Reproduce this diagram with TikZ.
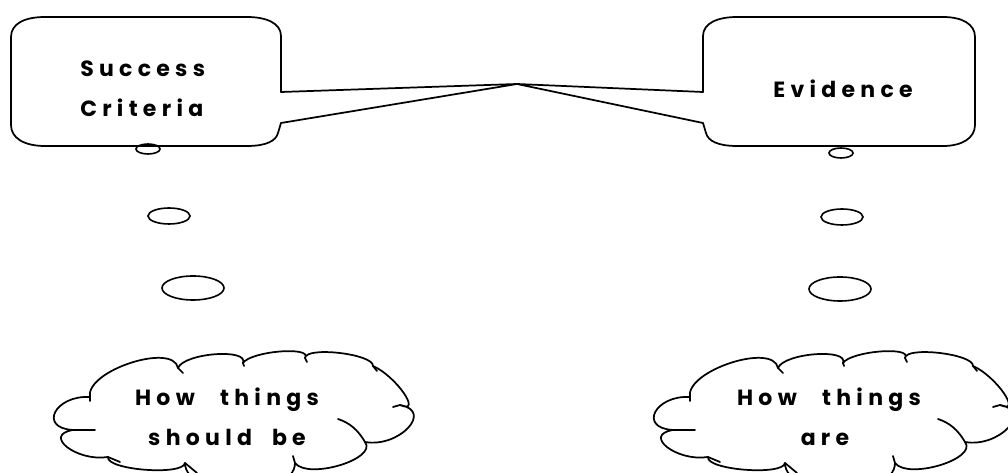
\documentclass[tikz,border=0pt]{standalone}
\usepackage{fontspec}
\usetikzlibrary{shapes.geometric}
\newfontfamily\comicfont[LetterSpace=24, BoldFont={Poppins Bold}]{Poppins}
\newcommand{\wspbig}{\hspace{19pt}}
\newcommand{\wspmid}{\hspace{15pt}}
\begin{document}
\begin{tikzpicture}[x=0.75pt,y=-0.75pt,
  ln/.style={line width=1.3pt, line join=round, line cap=round},
  lab/.style={font=\comicfont\bfseries\fontsize{16.5pt}{18pt}\selectfont, inner sep=0pt},
  bubble/.style={ellipse, draw, line width=1.2pt, inner sep=0pt},
  cloudpic/.pic={
    \draw[ln]
      (90,397) .. controls (85,371) and (173,342) .. (178,368)
      .. controls (184,353) and (249,348) .. (243,363)
      .. controls (251,351) and (313,346) .. (305,358)
      .. controls (306,346) and (374,354) .. (373,366)
      .. controls (396,376) and (423,415) .. (400,405)
      .. controls (434,411) and (399,448) .. (365,442)
      .. controls (378,459) and (308,480) .. (295,463)
      .. controls (295,499) and (185,499) .. (185,463)
      .. controls (183,476) and (106,470) .. (108,457)
      .. controls (77,462) and (42,435) .. (73,430)
      .. controls (38,428) and (55,395) .. (90,397) -- cycle;
    \draw[ln] (73,430) -- (95,430);
    \draw[ln] (108,457) -- (120,462);
    \draw[ln] (185,463) -- (197,473);
    \draw[ln] (295,463) -- (293,456);
    \draw[ln] (365,442) .. controls (358,430) and (350,423) .. (338,419);
    \draw[ln] (400,405) -- (393,407);
    \draw[ln] (373,366) -- (377,371);
    \draw[ln] (305,358) -- (307,362);
    \draw[ln] (243,363) -- (244,366);
    \draw[ln] (178,368) -- (183,373);
    \draw[ln] (90,397) -- (90,401);
  }]
\useasboundingbox (0,0) rectangle (1008,473);
\clip (0,0) rectangle (1008,473);
\fill[white] (0,0) rectangle (1008,473);

\coordinate (tip) at (517,84);

% left speech box
\draw[ln] (tip) -- (281,92) -- (281,36) .. controls (281,23) and (266,17) .. (247,17)
  -- (45,17) .. controls (24,17) and (11,24) .. (11,37)
  -- (11,125) .. controls (11,138) and (24,146) .. (45,146)
  -- (247,146) .. controls (266,146) and (276,141) .. (278,133)
  -- (281,123) -- cycle;

% right speech box
\draw[ln] (tip) -- (703,92) -- (703,36) .. controls (703,23) and (718,17) .. (737,17)
  -- (943,17) .. controls (962,17) and (975,24) .. (975,37)
  -- (975,125) .. controls (975,138) and (962,146) .. (943,146)
  -- (737,146) .. controls (718,146) and (708,141) .. (706,133)
  -- (703,123) -- cycle;

\node[lab, anchor=base west] (sc1) at (80,77) {Success};
\node[lab, anchor=base west] (sc2) at (80,117) {Criteria};
\node[lab, anchor=base] (ev) at (843,98) {Evidence};

% thought bubbles
\node[bubble, minimum width=18pt, minimum height=7.5pt] (l1) at (148,149) {};
\node[bubble, minimum width=31.5pt, minimum height=12pt] (l2) at (169,216) {};
\node[bubble, minimum width=46.5pt, minimum height=18pt] (l3) at (193,288) {};
\node[bubble, minimum width=18pt, minimum height=7.5pt] (r1) at (841,153) {};
\node[bubble, minimum width=31.5pt, minimum height=12pt] (r2) at (842,217) {};
\node[bubble, minimum width=46.5pt, minimum height=18pt] (r3) at (840,289) {};

% clouds
\pic at (0,0) {cloudpic};
\pic at (600,0) {cloudpic};

\node[lab, anchor=base] (h1) at (227,406) {How\wspbig things};
\node[lab, anchor=base] (h2) at (227,446) {should\wspmid be};
\node[lab, anchor=base] (h3) at (829,406) {How\wspbig things};
\node[lab, anchor=base] (h4) at (825,446) {are};
\end{tikzpicture}
\end{document}
